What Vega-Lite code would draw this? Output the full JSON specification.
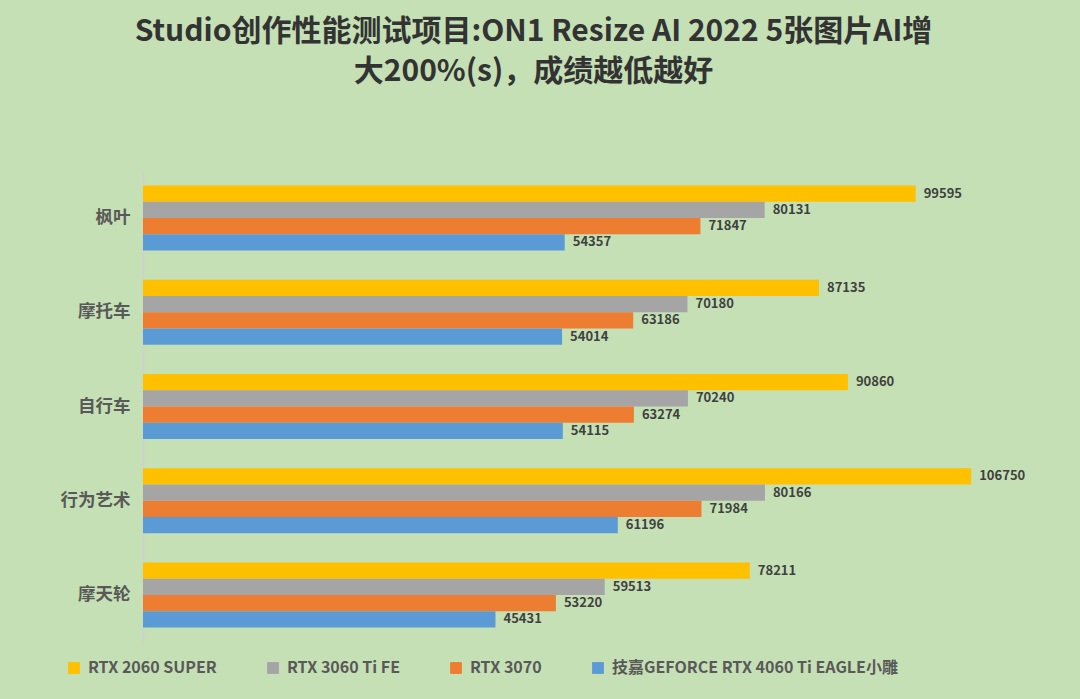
{
  "$schema": "https://vega.github.io/schema/vega-lite/v6.json",
  "width": 931,
  "height": 471,
  "autosize": {"type": "none"},
  "padding": {"left": 143, "top": 171, "right": 6, "bottom": 57},
  "background": "#C5E0B4",
  "config": {"view": {"stroke": null}, "font": "Noto Sans CJK SC"},
  "title": {
    "text": ["Studio创作性能测试项目:ON1 Resize AI 2022 5张图片AI增", "大200%(s)，成绩越低越好"],
    "anchor": "middle",
    "dx": -75,
    "fontSize": 30,
    "font": "Noto Sans CJK SC",
    "fontWeight": "bold",
    "color": "#333333",
    "lineHeight": 40,
    "offset": 84
  },
  "data": {
    "values": [
      {"cat": "枫叶", "series": "RTX 2060 SUPER", "value": 99595},
      {"cat": "枫叶", "series": "RTX 3060 Ti FE", "value": 80131},
      {"cat": "枫叶", "series": "RTX 3070", "value": 71847},
      {"cat": "枫叶", "series": "技嘉GEFORCE RTX 4060 Ti EAGLE小雕", "value": 54357},
      {"cat": "摩托车", "series": "RTX 2060 SUPER", "value": 87135},
      {"cat": "摩托车", "series": "RTX 3060 Ti FE", "value": 70180},
      {"cat": "摩托车", "series": "RTX 3070", "value": 63186},
      {"cat": "摩托车", "series": "技嘉GEFORCE RTX 4060 Ti EAGLE小雕", "value": 54014},
      {"cat": "自行车", "series": "RTX 2060 SUPER", "value": 90860},
      {"cat": "自行车", "series": "RTX 3060 Ti FE", "value": 70240},
      {"cat": "自行车", "series": "RTX 3070", "value": 63274},
      {"cat": "自行车", "series": "技嘉GEFORCE RTX 4060 Ti EAGLE小雕", "value": 54115},
      {"cat": "行为艺术", "series": "RTX 2060 SUPER", "value": 106750},
      {"cat": "行为艺术", "series": "RTX 3060 Ti FE", "value": 80166},
      {"cat": "行为艺术", "series": "RTX 3070", "value": 71984},
      {"cat": "行为艺术", "series": "技嘉GEFORCE RTX 4060 Ti EAGLE小雕", "value": 61196},
      {"cat": "摩天轮", "series": "RTX 2060 SUPER", "value": 78211},
      {"cat": "摩天轮", "series": "RTX 3060 Ti FE", "value": 59513},
      {"cat": "摩天轮", "series": "RTX 3070", "value": 53220},
      {"cat": "摩天轮", "series": "技嘉GEFORCE RTX 4060 Ti EAGLE小雕", "value": 45431}
    ]
  },
  "encoding": {
    "y": {
      "field": "cat",
      "type": "nominal",
      "sort": ["枫叶", "摩托车", "自行车", "行为艺术", "摩天轮"],
      "scale": {"paddingInner": 0.31, "paddingOuter": 0.155},
      "axis": {
        "title": null,
        "ticks": false,
        "labelFontSize": 17.5,
        "labelFontWeight": "bold",
        "labelColor": "#595959",
        "labelPadding": 13,
        "domainColor": "#D0D0D0",
        "domainWidth": 1.5
      }
    },
    "yOffset": {
      "field": "series",
      "sort": ["RTX 2060 SUPER", "RTX 3060 Ti FE", "RTX 3070", "技嘉GEFORCE RTX 4060 Ti EAGLE小雕"]
    },
    "x": {
      "field": "value",
      "type": "quantitative",
      "scale": {"domain": [0, 120000]},
      "axis": null
    }
  },
  "layer": [
    {
      "mark": {"type": "bar"},
      "encoding": {
        "color": {
          "field": "series",
          "type": "nominal",
          "sort": ["RTX 2060 SUPER", "RTX 3060 Ti FE", "RTX 3070", "技嘉GEFORCE RTX 4060 Ti EAGLE小雕"],
          "scale": {
            "domain": ["RTX 2060 SUPER", "RTX 3060 Ti FE", "RTX 3070", "技嘉GEFORCE RTX 4060 Ti EAGLE小雕"],
            "range": ["#FFC000", "#A5A5A5", "#ED7D31", "#5B9BD5"]
          },
          "legend": {
            "title": null,
            "orient": "none",
            "legendX": -77,
            "legendY": 489,
            "direction": "horizontal",
            "symbolType": "square",
            "symbolSize": 140,
            "symbolStrokeWidth": 0,
            "labelFontSize": 16,
            "labelFontWeight": "bold",
            "labelColor": "#595959",
            "labelLimit": 500,
            "columnPadding": 48,
            "labelOffset": 6
          }
        }
      }
    },
    {
      "mark": {"type": "text", "align": "left", "baseline": "middle", "dx": 8, "fontSize": 13, "fontWeight": "bold", "color": "#404040"},
      "encoding": {
        "text": {"field": "value", "type": "quantitative", "format": "d"}
      }
    }
  ]
}
